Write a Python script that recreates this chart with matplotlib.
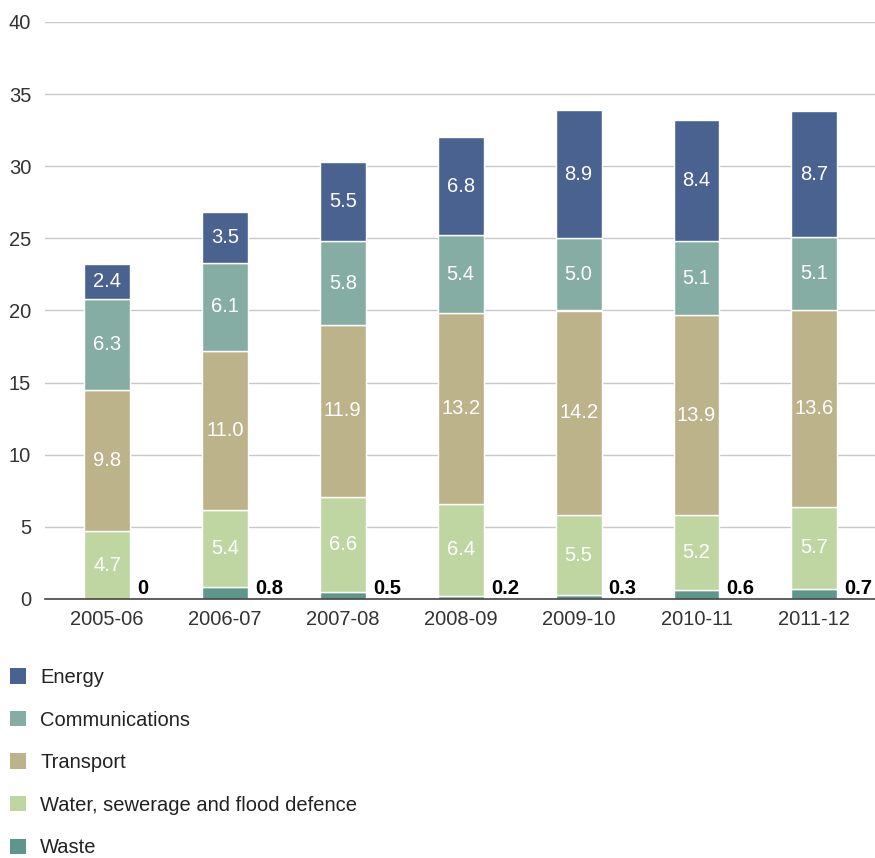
import numpy as np
import matplotlib.pyplot as plt
from matplotlib.patches import Patch

plt.rcParams['font.family'] = ['Liberation Sans', 'DejaVu Sans']

# 数据
years = ['2005-06', '2006-07', '2007-08', '2008-09', '2009-10', '2010-11', '2011-12']
waste = [0, 0.8, 0.5, 0.2, 0.3, 0.6, 0.7]
water = [4.7, 5.4, 6.6, 6.4, 5.5, 5.2, 5.7]
transport = [9.8, 11.0, 11.9, 13.2, 14.2, 13.9, 13.6]
communications = [6.3, 6.1, 5.8, 5.4, 5.0, 5.1, 5.1]
energy = [2.4, 3.5, 5.5, 6.8, 8.9, 8.4, 8.7]

series = [
    ('Waste', waste, '#5e968c'),
    ('Water, sewerage and flood defence', water, '#c0d6a2'),
    ('Transport', transport, '#bdb38a'),
    ('Communications', communications, '#86ada4'),
    ('Energy', energy, '#4a6290'),
]

fig = plt.figure(figsize=(8.75, 8.58), dpi=100)
ax = fig.add_axes([45 / 875, 259 / 858, 830 / 875, 577 / 858])

x = np.arange(len(years))
w = 0.39
bottom = np.zeros(len(years))
for name, vals, col in series:
    vals = np.array(vals)
    ax.bar(x, vals, w, bottom=bottom, color=col, edgecolor='white', linewidth=1.0, zorder=2)
    for i, v in enumerate(vals):
        if name == 'Waste':
            ax.text(x[i] + w / 2 + 0.06, 0.05, f'{v:g}', ha='left', va='bottom',
                    fontsize=14.5, fontweight='bold', color='black', zorder=4)
        else:
            ax.text(x[i], bottom[i] + v / 2, f'{v:.1f}', ha='center', va='center',
                    fontsize=14.5, color='white', zorder=4)
    bottom += vals

ax.set_xlim(-0.526, 6.514)
ax.set_ylim(0, 40)
ax.set_yticks(range(0, 41, 5))
ax.set_xticks(x)
ax.set_xticklabels(years)
ax.yaxis.grid(True, color='#c8c8c8', linewidth=1)
ax.set_axisbelow(True)
for s in ['top', 'right', 'left']:
    ax.spines[s].set_visible(False)
ax.spines['bottom'].set_color('#444444')
ax.spines['bottom'].set_linewidth(1.2)
ax.spines['bottom'].set_zorder(3)
ax.tick_params(axis='both', length=0, labelsize=14.5, labelcolor='#333333')
ax.tick_params(axis='y', pad=10)
ax.tick_params(axis='x', pad=8)

handles = [Patch(facecolor=col, label=name) for name, vals, col in series[::-1]]
fig.legend(handles=handles, loc='upper left', bbox_to_anchor=(10 / 875, 190 / 858),
           frameon=False, fontsize=14.5, handlelength=0.8, handleheight=0.8,
           handletextpad=0.7, labelspacing=1.17, borderpad=0, borderaxespad=0,
           labelcolor='#222222')

fig.savefig('out.png', dpi=100)
